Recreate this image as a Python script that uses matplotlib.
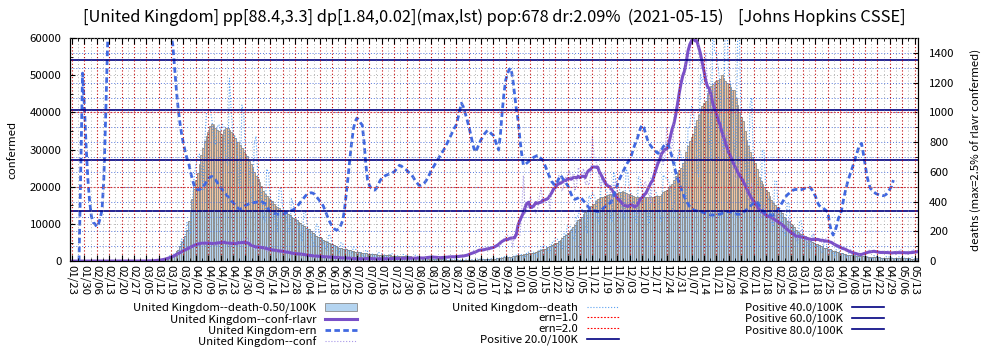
import numpy as np
import pandas as pd
import matplotlib
matplotlib.use("Agg")
import matplotlib.pyplot as plt
from matplotlib.ticker import MultipleLocator, FixedLocator

plt.rcParams["font.family"] = ["Noto Sans CJK JP", "DejaVu Sans"]

start_date = "2020-01-23"
end_date = "2021-05-15"
country = "United Kingdom"
pop_100k = 678            # population in units of 100K
positive_levels = [20.0, 40.0, 60.0, 80.0]
death_level = 0.50        # deaths per 100K, bars above it get the warm colour
ern_levels = [1.0, 2.0]
ern_scale = 20000         # ern=1.0 drawn at 20000 on the left axis
death_ratio = 0.025       # right axis max = 2.5% of left axis max
title = ("[United Kingdom] pp[88.4,3.3] dp[1.84,0.02](max,lst) pop:678 dr:2.09%"
         "  (2021-05-15)    [Johns Hopkins CSSE]")

# daily new cases, one line per week (Thu..Wed)
conf_raw = [
    0, 0, 0, 0, 0, 0, 0,
    0, 2, 0, 0, 0, 0, 0,
    1, 0, 0, 0, 5, 0, 0,
    1, 0, 0, 0, 0, 0, 0,
    0, 0, 0, 0, 0, 4, 0,
    2, 5, 3, 13, 4, 11, 34,
    30, 48, 43, 67, 48, 52, 83,
    300, 350, 450, 400, 350, 600, 750,
    1200, 1400, 1500, 1600, 1800, 2100, 2600,
    3000, 3300, 3500, 3300, 3200, 3900, 4300,
    4700, 5000, 5100, 4800, 4200, 4500, 5300,
    4900, 5000, 5200, 4400, 4300, 4000, 5100,
    5600, 5500, 5500, 4700, 4700, 4400, 3900,
    5400, 5400, 5000, 4400, 4300, 4400, 6100,
    4800, 6200, 4800, 4300, 3900, 3100, 3000,
    3900, 4600, 3900, 3900, 3800, 2500, 2600,
    3400, 3500, 3200, 3100, 2700, 2200, 2200,
    2600, 3300, 2900, 2400, 2000, 1600, 2000,
    2100, 2100, 2400, 1900, 1600, 1500, 1700,
    1800, 1600, 1600, 1500, 1200, 1300, 1150,
    1250, 1550, 1300, 1100, 1000, 1000, 850,
    1200, 1300, 1000, 900, 950, 650, 650,
    1100, 900, 900, 800, 700, 700, 500,
    600, 600, 800, 600, 500, 700, 750,
    650, 800, 800, 600, 500, 400, 590,
    650, 700, 800, 600, 550, 500, 750,
    770, 800, 750, 740, 600, 580, 800,
    850, 900, 750, 750, 700, 750, 900,
    950, 870, 750, 1000, 800, 550, 1030,
    1450, 1400, 1050, 1000, 700, 700, 700,
    1200, 1050, 1300, 1300, 850, 850, 1150,
    1500, 1300, 1100, 1700, 1000, 1300, 1500,
    1700, 1900, 1800, 2900, 2600, 2400, 2700,
    2900, 3500, 3500, 3300, 2600, 3100, 3900,
    3400, 4300, 4400, 3900, 4400, 4900, 6200,
    6600, 6900, 6000, 5700, 4000, 7100, 7100,
    6900, 6900, 12900, 23000, 12600, 14500, 14200,
    17500, 13900, 15200, 12900, 13900, 17200, 19700,
    15600, 15600, 16100, 16900, 13900, 18800, 21300,
    21200, 20500, 23000, 19800, 18900, 20900, 22700,
    23100, 24400, 21900, 23300, 18900, 20000, 25200,
    24100, 23300, 24900, 20600, 21400, 20400, 22900,
    33500, 27300, 26900, 24900, 21400, 20000, 23000,
    24000, 21500, 20500, 18700, 15500, 18000, 22000,
    18000, 16000, 16000, 13000, 13000, 14000, 18000,
    14900, 15300, 14500, 15500, 13700, 12300, 15700,
    17500, 20500, 21500, 18400, 18000, 15500, 22000,
    25000, 27000, 26000, 30000, 28000, 26000, 28500,
    36000, 32000, 30000, 30500, 36000, 41000, 43000,
    46000, 48000, 50000, 52000, 54000, 56000, 52000,
    64000, 68000, 62000, 59000, 58000, 52000, 52000,
    52000, 56000, 46000, 42000, 40000, 41000, 48000,
    40000, 40000, 36000, 33000, 28000, 33000, 35000,
    30000, 29000, 26000, 23000, 22000, 24000, 28000,
    23000, 22000, 20000, 18000, 16500, 17000, 21000,
    16000, 15000, 14500, 13500, 11500, 12500, 15000,
    13000, 12500, 11500, 10500, 10000, 11000, 14000,
    11000, 10000, 9500, 8000, 8000, 8500, 11500,
    7300, 7000, 6500, 5700, 5600, 6200, 8600,
    7000, 6800, 5500, 5100, 4700, 5400, 7500,
    6300, 6000, 5600, 4900, 5300, 4700, 6400,
    6400, 5000, 5000, 4700, 3900, 3800, 4100,
    4500, 3400, 3400, 2800, 2300, 2700, 3100,
    2400, 2000, 1800, 1600, 1500, 1700, 1950,
    1900, 2100, 3000, 2800, 2500, 2700, 2500,
    2600, 2400, 2300, 2000, 2100, 2300, 2750,
    2500, 2300, 2000, 1800, 1700, 2600, 3200,
    2400, 2200, 1900, 1800, 1900, 2300, 3250,
    2650, 2200, 2200,
]

# daily deaths, one line per week (Thu..Wed)
death_raw = [
    0, 0, 0, 0, 0, 0, 0,
    0, 0, 0, 0, 0, 0, 0,
    0, 0, 0, 0, 0, 0, 0,
    0, 0, 0, 0, 0, 0, 0,
    0, 0, 0, 0, 0, 0, 0,
    0, 0, 0, 0, 0, 0, 0,
    1, 0, 1, 0, 2, 1, 3,
    2, 11, 4, 14, 20, 17, 33,
    40, 33, 56, 48, 54, 87, 149,
    115, 181, 260, 209, 180, 381, 563,
    650, 700, 720, 640, 480, 800, 1000,
    1000, 1020, 960, 820, 780, 900, 920,
    880, 920, 900, 700, 640, 1230, 1000,
    860, 840, 820, 560, 480, 1050, 1000,
    720, 700, 640, 450, 400, 800, 840,
    560, 500, 460, 300, 260, 620, 600,
    420, 390, 360, 250, 200, 480, 500,
    360, 340, 300, 220, 180, 420, 390,
    300, 280, 240, 180, 130, 330, 330,
    220, 200, 180, 130, 100, 250, 240,
    160, 145, 130, 90, 70, 180, 170,
    115, 100, 95, 65, 50, 125, 115,
    85, 80, 70, 48, 40, 95, 86,
    65, 60, 55, 35, 30, 75, 65,
    52, 50, 45, 30, 25, 60, 53,
    48, 42, 40, 28, 22, 52, 48,
    40, 38, 35, 25, 20, 45, 42,
    35, 32, 30, 20, 18, 40, 35,
    25, 22, 18, 12, 10, 28, 25,
    14, 12, 11, 8, 7, 17, 15,
    12, 11, 9, 6, 5, 14, 13,
    11, 10, 8, 5, 4, 12, 13,
    12, 10, 9, 6, 5, 14, 14,
    14, 12, 11, 8, 6, 17, 16,
    22, 20, 18, 14, 11, 27, 28,
    34, 32, 28, 20, 17, 40, 39,
    50, 48, 42, 30, 25, 60, 60,
    68, 64, 58, 40, 32, 80, 78,
    105, 100, 92, 65, 55, 125, 123,
    155, 150, 135, 100, 80, 185, 175,
    250, 240, 220, 160, 135, 300, 305,
    360, 350, 320, 230, 190, 440, 420,
    460, 440, 410, 290, 240, 560, 540,
    500, 470, 440, 320, 260, 600, 560,
    520, 490, 460, 330, 280, 620, 590,
    470, 450, 420, 300, 250, 570, 550,
    470, 450, 420, 300, 250, 560, 560,
    480, 460, 430, 310, 260, 580, 560,
    560, 540, 500, 360, 320, 680, 680,
    750, 720, 660, 480, 420, 900, 900,
    1040, 1000, 920, 670, 560, 1260, 1200,
    1260, 1220, 1120, 820, 680, 1610, 1410,
    1400, 1300, 1200, 880, 750, 1650, 1570,
    1250, 1200, 1100, 800, 650, 1500, 1550,
    900, 850, 780, 570, 450, 1050, 1100,
    620, 590, 540, 400, 320, 750, 735,
    450, 430, 400, 280, 230, 540, 540,
    330, 320, 290, 210, 170, 390, 390,
    240, 220, 200, 150, 120, 270, 270,
    160, 150, 135, 100, 80, 180, 175,
    110, 105, 95, 70, 55, 135, 130,
    78, 72, 68, 48, 38, 92, 94,
    52, 48, 44, 30, 25, 60, 63,
    38, 36, 32, 22, 18, 45, 47,
    32, 30, 27, 18, 15, 36, 38,
    26, 24, 22, 15, 12, 30, 32,
    24, 22, 20, 14, 11, 28, 28,
    22, 20, 18, 12, 10, 25, 26,
    14, 13, 12,
]

nan = np.nan
# effective reproduction number estimate, one line per week (Thu..Wed)
ern = [
    nan, nan, nan, nan, 0.0, 1.3, 2.53,
    2.1, 1.55, 1.1, 0.8, 0.6, 0.52, 0.5,
    0.46, 0.5, 0.58, 0.69, 1.1, 1.9, 2.8,
    3.6, 4.3, 5.0, 5.5, 5.8, 6.0, 6.1,
    6.0, 5.8, 5.6, 5.3, 5.0, 4.8, 4.7,
    4.6, 4.5, 4.4, 4.3, 4.2, 4.1, 4.0,
    3.9, 3.8, 3.75, 3.7, 3.65, 3.6, 3.55,
    3.5, 3.45, 3.4, 3.35, 3.3, 3.2, 3.1,
    3.05, 2.9, 2.6, 2.3, 2.05, 1.86, 1.7,
    1.58, 1.47, 1.38, 1.31, 1.2, 1.1, 1.02,
    0.97, 0.96, 0.96, 0.98, 0.99, 1.03, 1.07,
    1.11, 1.13, 1.14, 1.12, 1.1, 1.06, 1.02,
    0.99, 0.96, 0.93, 0.9, 0.87, 0.84, 0.81,
    0.79, 0.76, 0.73, 0.71, 0.7, 0.71, 0.73,
    0.75, 0.76, 0.77, 0.78, 0.78, 0.79, 0.79,
    0.8, 0.8, 0.8, 0.79, 0.77, 0.74, 0.7,
    0.67, 0.65, 0.64, 0.64, 0.63, 0.63, 0.63,
    0.63, 0.64, 0.65, 0.66, 0.67, 0.68, 0.69,
    0.71, 0.73, 0.76, 0.79, 0.82, 0.85, 0.88,
    0.9, 0.91, 0.92, 0.915, 0.9, 0.87, 0.84,
    0.81, 0.78, 0.74, 0.68, 0.62, 0.56, 0.51,
    0.47, 0.44, 0.42, 0.42, 0.44, 0.49, 0.55,
    0.7, 0.92, 1.14, 1.38, 1.6, 1.78, 1.88,
    1.925, 1.9, 1.86, 1.83, 1.6, 1.3, 1.09,
    1.02, 0.98, 0.96, 0.955, 0.98, 1.03, 1.08,
    1.115, 1.13, 1.15, 1.16, 1.17, 1.18, 1.19,
    1.2, 1.23, 1.26, 1.29, 1.28, 1.26, 1.24,
    1.225, 1.2, 1.18, 1.155, 1.12, 1.08, 1.05,
    1.02, 1.02, 1.03, 1.05, 1.08, 1.12, 1.17,
    1.225, 1.26, 1.3, 1.34, 1.38, 1.42, 1.46,
    1.495, 1.54, 1.59, 1.64, 1.69, 1.74, 1.79,
    1.83, 1.92, 2.02, 2.125, 2.08, 2.0, 1.92,
    1.83, 1.73, 1.62, 1.52, 1.465, 1.52, 1.58,
    1.63, 1.67, 1.71, 1.74, 1.76, 1.74, 1.71,
    1.695, 1.63, 1.56, 1.495, 1.7, 2.0, 2.25,
    2.435, 2.52, 2.58, 2.595, 2.45, 2.25, 2.05,
    1.895, 1.65, 1.45, 1.29, 1.3, 1.32, 1.34,
    1.36, 1.38, 1.4, 1.41, 1.425, 1.4, 1.38,
    1.36, 1.3, 1.24, 1.18, 1.12, 1.07, 1.04,
    1.02, 1.06, 1.11, 1.155, 1.12, 1.08, 1.05,
    1.02, 0.96, 0.9, 0.85, 0.83, 0.84, 0.85,
    0.865, 0.84, 0.81, 0.78, 0.75, 0.72, 0.7,
    0.69, 0.68, 0.67, 0.665, 0.67, 0.69, 0.71,
    0.73, 0.75, 0.77, 0.78, 0.82, 0.88, 0.95,
    1.02, 1.09, 1.14, 1.19, 1.24, 1.29, 1.33,
    1.36, 1.42, 1.5, 1.57, 1.625, 1.7, 1.78,
    1.83, 1.8, 1.72, 1.64, 1.585, 1.55, 1.52,
    1.49, 1.47, 1.45, 1.47, 1.5, 1.54, 1.57,
    1.585, 1.55, 1.48, 1.4, 1.3, 1.2, 1.12,
    1.05, 0.98, 0.92, 0.86, 0.81, 0.77, 0.73,
    0.71, 0.69, 0.68, 0.675, 0.67, 0.665, 0.66,
    0.65, 0.64, 0.63, 0.625, 0.62, 0.62, 0.62,
    0.625, 0.63, 0.63, 0.64, 0.65, 0.66, 0.665,
    0.665, 0.66, 0.65, 0.64, 0.635, 0.63, 0.63,
    0.64, 0.65, 0.67, 0.69, 0.71, 0.73, 0.76,
    0.78, 0.8, 0.79, 0.76, 0.72, 0.685, 0.66,
    0.64, 0.63, 0.625, 0.62, 0.62, 0.63, 0.66,
    0.7, 0.74, 0.78, 0.82, 0.86, 0.89, 0.91,
    0.93, 0.95, 0.96, 0.965, 0.96, 0.955, 0.96,
    0.97, 0.98, 0.99, 1.0, 0.99, 0.96, 0.92,
    0.87, 0.8, 0.75, 0.73, 0.72, 0.7, 0.68,
    0.66, 0.5, 0.4, 0.35, 0.4, 0.48, 0.58,
    0.62, 0.72, 0.85, 0.955, 1.05, 1.13, 1.2,
    1.27, 1.35, 1.42, 1.5, 1.56, 1.585, 1.45,
    1.3, 1.155, 1.05, 0.98, 0.955, 0.93, 0.91,
    0.9, 0.89, 0.885, 0.88, 0.885, 0.9, 0.93,
    0.97, 1.01, 1.09, nan, nan, nan, nan,
    nan, nan, nan, nan, nan, nan, nan,
    nan, nan, nan,
]

dates = pd.date_range(start_date, end_date)
days = np.arange(len(dates))
conf = pd.Series(conf_raw, dtype=float)
death = pd.Series(death_raw, dtype=float)
conf_rlavr = conf.rolling(7, center=True, min_periods=1).mean()
death_rlavr = death.rolling(7, center=True, min_periods=1).mean()
ern_line = np.array(ern, dtype=float) * ern_scale
death_thr = death_level * pop_100k
death_low = np.minimum(death_rlavr, death_thr)
death_high = np.clip(death_rlavr - death_thr, 0, None)

ymax = 60000
fs = 8.2
fig = plt.figure(figsize=(10, 3.5), dpi=100)
ax = fig.add_axes([0.07, 0.254, 0.848, 0.637])
ax2 = ax.twinx()
ax.set_zorder(ax2.get_zorder() + 1)
ax.patch.set_visible(False)

# deaths on the right axis
bars = ax2.bar(days, death_low, width=1.0, color="#b4d4f0",
               edgecolor="#8a8a8a", linewidth=0.6,
               label=f"{country}--death-{death_level:.2f}/100K")
ax2.bar(days, death_high, bottom=death_low, width=1.0, color="#f0c4a0",
        edgecolor="#8a8a8a", linewidth=0.6)
death_ln, = ax2.plot(days, death, color="#5aa0f0", lw=0.8, ls=":",
                     label=f"{country}--death")

# cases and ern on the left axis
conf_ln, = ax.plot(days, conf, color="#a898e8", lw=0.8, ls=":",
                   label=f"{country}--conf")
rlavr_ln, = ax.plot(days, conf_rlavr, color="#7a50c8", lw=2.2,
                    label=f"{country}--conf-rlavr")
ern_ln, = ax.plot(days, ern_line, color="#4169e1", lw=2.0, ls=(0, (2, 1.2)),
                  label=f"{country}-ern")
ern_refs = [ax.axhline(lv * ern_scale, color="red", lw=0.8, ls=(0, (1.5, 1.5)),
                       label=f"ern={lv:.1f}") for lv in ern_levels]
pos_refs = [ax.axhline(p * pop_100k, color="#000080", lw=1.2,
                       label=f"Positive {p:.1f}/100K") for p in positive_levels]

ax.set_xlim(-1.1, 477.9)
ax.set_ylim(0, ymax)
ax2.set_ylim(0, ymax * death_ratio)

# ticks
ax.xaxis.set_major_locator(FixedLocator(days[::7]))
ax.set_xticklabels(dates[::7].strftime("%m/%d"), rotation=-90, fontsize=fs)
ax.xaxis.set_minor_locator(FixedLocator(days[::7] + 3.5))
ax.yaxis.set_major_locator(MultipleLocator(10000))
ax.yaxis.set_minor_locator(MultipleLocator(5000))
ax2.yaxis.set_major_locator(MultipleLocator(200))
ax2.yaxis.set_minor_locator(MultipleLocator(100))
ax.tick_params(axis="x", which="both", direction="in", top=True, pad=3)
ax.tick_params(axis="x", which="major", length=4)
ax.tick_params(axis="x", which="minor", length=2)
ax.tick_params(axis="y", which="both", direction="in", labelsize=fs, pad=6)
ax2.tick_params(axis="y", which="both", direction="in", labelsize=fs, pad=8)

# grids
ax.set_axisbelow(False)
ax2.set_axisbelow(False)
ax.grid(axis="x", which="major", color="#c00000", lw=0.8, ls=(0, (1, 2)))
ax.grid(axis="x", which="minor", color="#999999", lw=0.6, ls=(0, (1, 3)))
ax.grid(axis="y", which="major", color="#999999", lw=0.6, ls=(0, (1, 3)))
ax2.grid(axis="y", which="both", color="#5577dd", lw=0.7, ls=(0, (1, 2)))

ax.set_ylabel("confermed", fontsize=fs, labelpad=9)
ax2.set_ylabel("deaths (max=2.5% of rlavr confermed)", fontsize=fs, labelpad=12)
fig.text(0.494, 0.951, title, ha="center", va="center", fontsize=11.8)

# legend in three blocks under the plot
cols = [
    ([bars, rlavr_ln, ern_ln, conf_ln], 0.357),
    ([death_ln] + ern_refs + pos_refs[:1], 0.619),
    (pos_refs[1:], 0.884),
]
for handles, xr in cols:
    fig.legend(handles=handles, loc="upper right",
               bbox_to_anchor=(xr, 0.135), frameon=False, fontsize=fs,
               markerfirst=False, handlelength=2.8, handletextpad=0.8,
               labelspacing=0.06, borderpad=0, borderaxespad=0)

fig.savefig("out.png", dpi=100)
